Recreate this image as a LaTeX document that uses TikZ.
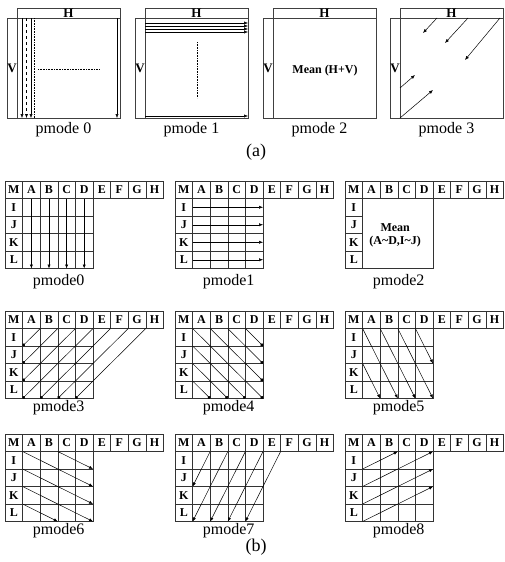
\documentclass[tikz,border=0pt]{standalone}
\usepackage{fontspec}
\setmainfont{Liberation Serif}
\usetikzlibrary{arrows.meta}

\begin{document}
\begin{tikzpicture}[x=1pt, y=-1pt,
  frame/.style={draw=black!75, line width=0.6pt},
  gridline/.style={draw=black!80, line width=0.5pt},
  cellletter/.style={font=\bfseries\fontsize{12}{12}\selectfont, inner sep=0pt},
  panelletter/.style={font=\bfseries\fontsize{13}{13}\selectfont, inner sep=0pt},
  meanlabel/.style={font=\bfseries\fontsize{12}{13}\selectfont, inner sep=0pt, align=center},
  caption/.style={font=\fontsize{16}{16}\selectfont, inner sep=0pt},
  sublabel/.style={font=\fontsize{18}{18}\selectfont, inner sep=0pt},
  flow/.style={-{Latex[length=4pt,width=3.2pt]}, line width=0.5pt},
  dotflow/.style={-{Circle[length=3.2pt]}, line width=0.5pt},
  guide/.style={densely dotted, line width=0.6pt},
  panel/.pic={
    \draw[frame] (0,18) rectangle (113,118);
    \draw[frame] (10,8) rectangle (113,18);
    \draw[frame] (10,18) -- (10,118);
    \node[panelletter] (-H) at (61.5,13) {H};
    \node[panelletter] (-V) at (5,68) {V};
  },
  lettergrid/.pic={
    \draw[gridline] (0,0) rectangle (9,1);
    \foreach \c in {1,...,8} \draw[gridline] (\c,0) -- (\c,1);
    \draw[gridline] (0,1) rectangle (5,5);
    \foreach \r in {2,3,4} \draw[gridline] (0,\r) -- (1,\r);
    \draw[gridline] (1,1) -- (1,5);
    \foreach \l [count=\i from 0] in {M,A,B,C,D,E,F,G,H}
      \node[cellletter] (-\l) at (\i+0.5,0.5) {\l};
    \foreach \l [count=\j from 1] in {I,J,K,L}
      \node[cellletter] (-\l) at (0.5,\j+0.5) {\l};
  },
  innergrid/.pic={
    \foreach \c in {2,3,4} \draw[gridline] (\c,1) -- (\c,5);
    \foreach \r in {2,3,4} \draw[gridline] (1,\r) -- (5,\r);
  }
]
  \useasboundingbox (0,0) rectangle (505,562);

  % (a) whole-block modes
  \begin{scope}[shift={(7,0)}]
    \pic (p0) {panel};
    \draw[flow] (15,18) -- (15,118);
    \draw[flow, dashed] (19.5,18) -- (19.5,118);
    \draw[flow] (24,18) -- (24,118);
    \draw[guide] (27,18) -- (27,118);
    \draw[flow] (110,18) -- (110,118);
    \draw[guide] (31,69) -- (93,69);
    \node[caption] (c0) at (56.5,130) {pmode 0};
  \end{scope}
  \begin{scope}[shift={(135,0)}]
    \pic (p1) {panel};
    \foreach \y in {23,26,29,32} \draw[flow] (10,\y) -- (113,\y);
    \draw[flow] (10,116) -- (113,116);
    \draw[guide] (62,42) -- (62,98);
    \node[caption] (c1) at (56.5,130) {pmode 1};
  \end{scope}
  \begin{scope}[shift={(263,0)}]
    \pic (p2) {panel};
    \node[meanlabel] (mean) at (62,71) {Mean (H+V)};
    \node[caption] (c2) at (56.5,130) {pmode 2};
  \end{scope}
  \begin{scope}[shift={(390,0)}]
    \pic (p3) {panel};
    \draw[flow] (47,18) -- (33,33);
    \draw[flow] (78,18) -- (55,43);
    \draw[flow] (110,18) -- (75,60);
    \draw[flow] (10,88) -- (25,75);
    \draw[flow] (10,118) -- (43,90);
    \node[caption] (c3) at (56.5,130) {pmode 3};
  \end{scope}
  \node[sublabel] (suba) at (256,152) {(a)};

  % (b) 4x4 modes, row 1
  \begin{scope}[shift={(5,181)}, x=17.6pt, y=-17.5pt]
    \pic (g0) {lettergrid};
    \pic {innergrid};
    \foreach \c in {1,...,4} \draw[flow] (\c+0.5,1) -- (\c+0.5,5);
    \node[caption] (m0) at (3.05,5.75) {pmode0};
  \end{scope}
  \begin{scope}[shift={(175,181)}, x=17.6pt, y=-17.5pt]
    \pic (g1) {lettergrid};
    \pic {innergrid};
    \foreach \r in {1,...,4} \draw[flow] (1,\r+0.5) -- (5,\r+0.5);
    \node[caption] (m1) at (3.05,5.75) {pmode1};
  \end{scope}
  \begin{scope}[shift={(345,181)}, x=17.6pt, y=-17.5pt]
    \pic (g2) {lettergrid};
    \node[meanlabel] (avg) at (2.85,3.1) {Mean\\(A\textasciitilde D,I\textasciitilde J)};
    \node[caption] (m2) at (3.05,5.75) {pmode2};
  \end{scope}

  % row 2
  \begin{scope}[shift={(5,311)}, x=17.6pt, y=-17.5pt]
    \pic (g3) {lettergrid};
    \pic {innergrid};
    \foreach \s in {2,...,8} {
      \pgfmathsetmacro\dd{min(\s-1,4)}
      \draw[dotflow] (\s,1) -- (\s-\dd,1+\dd);
    }
    \node[caption] (m3) at (3.05,5.55) {pmode3};
  \end{scope}
  \begin{scope}[shift={(175,311)}, x=17.6pt, y=-17.5pt]
    \pic (g4) {lettergrid};
    \pic {innergrid};
    \foreach \s in {1,...,4} \draw[dotflow] (\s,1) -- (5,6-\s);
    \foreach \r in {2,3,4} \draw[dotflow] (1,\r) -- (6-\r,5);
    \node[caption] (m4) at (3.05,5.55) {pmode4};
  \end{scope}
  \begin{scope}[shift={(345,311)}, x=17.6pt, y=-17.5pt]
    \pic (g5) {lettergrid};
    \pic {innergrid};
    \draw[flow] (1,1) -- (3,5);
    \draw[flow] (2,1) -- (4,5);
    \draw[flow] (3,1) -- (5,5);
    \draw[flow] (4,1) -- (5,3);
    \draw[flow] (1,3) -- (2,5);
    \node[caption] (m5) at (3.05,5.55) {pmode5};
  \end{scope}

  % row 3
  \begin{scope}[shift={(5,434)}, x=17.6pt, y=-17.5pt]
    \pic (g6) {lettergrid};
    \pic {innergrid};
    \draw[flow] (1,1) -- (5,3);
    \draw[flow] (1,2) -- (5,4);
    \draw[flow] (1,3) -- (5,5);
    \draw[flow] (1,4) -- (3,5);
    \draw[flow] (3,1) -- (5,2);
    \node[caption] (m6) at (3.05,5.55) {pmode6};
  \end{scope}
  \begin{scope}[shift={(175,434)}, x=17.6pt, y=-17.5pt]
    \pic (g7) {lettergrid};
    \pic {innergrid};
    \draw[flow] (2,1) -- (1,3);
    \draw[flow] (3,1) -- (1,5);
    \draw[flow] (4,1) -- (2,5);
    \draw[flow] (5,1) -- (3,5);
    \draw[flow] (6,1) -- (4,5);
    \node[caption] (m7) at (3.05,5.55) {pmode7};
  \end{scope}
  \begin{scope}[shift={(345,434)}, x=17.6pt, y=-17.5pt]
    \pic (g8) {lettergrid};
    \pic {innergrid};
    \draw[flow] (1,2) -- (3,1);
    \draw[flow] (1,3) -- (5,1);
    \draw[flow] (1,4) -- (5,2);
    \draw[flow] (1,5) -- (5,3);
    \node[caption] (m8) at (3.05,5.55) {pmode8};
  \end{scope}
  \node[sublabel] (subb) at (256,547) {(b)};
\end{tikzpicture}
\end{document}
